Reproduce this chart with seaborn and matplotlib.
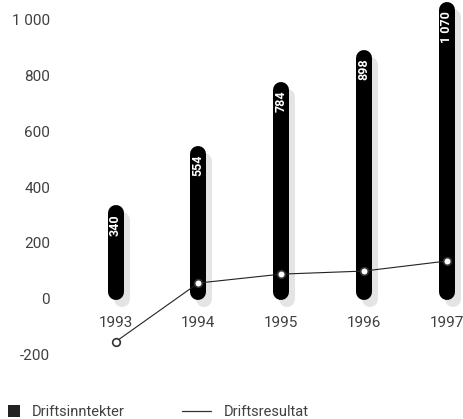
import matplotlib
matplotlib.use("Agg")
import matplotlib.pyplot as plt
import matplotlib.transforms as mtransforms
from matplotlib.patches import Patch
from matplotlib.lines import Line2D
import seaborn as sns
import pandas as pd

years = ["1993", "1994", "1995", "1996", "1997"]
inntekter = [340, 554, 784, 898, 1070]
inntekter_labels = ["340", "554", "784", "898", "1 070"]
resultat = [-150, 61, 93, 104, 140]
ytick_vals = [1000, 800, 600, 400, 200, 0, -200]
ytick_labels = ["1 000", "800", "600", "400", "200", "0", "-200"]

sns.set_style("white")
plt.rcParams["font.family"] = ["Roboto", "DejaVu Sans"]

W, H = 464, 419
fig = plt.figure(figsize=(W / 100, H / 100), dpi=100)
ax = fig.add_axes([0, 0, 1, 1])

df = pd.DataFrame({"year": years, "inntekter": inntekter, "resultat": resultat})
sns.barplot(data=df, x="year", y="inntekter", color="black", width=0.2, ax=ax, zorder=2)

ax.set_xlim(-1.395, 4.209)
ax.set_ylim(-427, 1077)
ax.axis("off")

fig.canvas.draw()
p0 = ax.transData.transform((0, 0))
p1 = ax.transData.transform((0, 100))
ppu = (p1[1] - p0[1]) / 100.0
lw_px = 16
cap = (lw_px / 2) / ppu
lw_pt = lw_px * 72 / 100

shadow_tr = mtransforms.offset_copy(ax.transData, fig=fig, x=6, y=-7, units="dots")
text_tr = mtransforms.offset_copy(ax.transData, fig=fig, x=0, y=-9, units="dots")

for patch, lab in zip(ax.patches, inntekter_labels):
    xc = patch.get_x() + patch.get_width() / 2
    h = patch.get_height()
    patch.set_visible(False)
    ax.plot([xc, xc], [cap, h - cap], color="#e4e4e4", lw=lw_pt,
            solid_capstyle="round", transform=shadow_tr, zorder=1)
    ax.plot([xc, xc], [cap, h - cap], color="black", lw=lw_pt,
            solid_capstyle="round", zorder=2)
    ax.text(xc, h, lab, rotation=90, ha="center", va="top", color="white",
            fontsize=9, fontweight="bold", transform=text_tr, zorder=5)

sns.pointplot(data=df, x="year", y="resultat", color="#222222", ax=ax,
              markers="o", linestyles="-", zorder=4,
              markerfacecolor="white", markeredgecolor="#333333",
              markersize=5.5, markeredgewidth=1.2, linewidth=0.8)
ax.set_xlim(-1.395, 4.209)
ax.set_ylim(-427, 1077)
ax.axis("off")

txt_color = "#404040"
for i, y in enumerate(years):
    ax.text(i, -82, y, ha="center", va="center", fontsize=11,
            color=txt_color)

ytr = mtransforms.blended_transform_factory(fig.transFigure, ax.transData)
for v, lab in zip(ytick_vals, ytick_labels):
    ax.text(50 / W, v, lab, ha="right", va="center", fontsize=11,
            color=txt_color, transform=ytr)

leg1 = fig.legend([Patch(facecolor="#222222", edgecolor="none")], ["Driftsinntekter"],
                  loc="center left", bbox_to_anchor=(8 / W, 1 - 412 / H),
                  frameon=False, fontsize=10.5, handlelength=0.8, handleheight=0.8,
                  handletextpad=0.8, borderaxespad=0, borderpad=0)
leg2 = fig.legend([Line2D([0], [0], color="#333333", lw=0.9)], ["Driftsresultat"],
                  loc="center left", bbox_to_anchor=(182 / W, 1 - 412 / H),
                  frameon=False, fontsize=10.5, handlelength=2.0,
                  handletextpad=0.85, borderaxespad=0, borderpad=0)
for leg in (leg1, leg2):
    for t in leg.get_texts():
        t.set_color(txt_color)

fig.savefig("out.png", dpi=100)
